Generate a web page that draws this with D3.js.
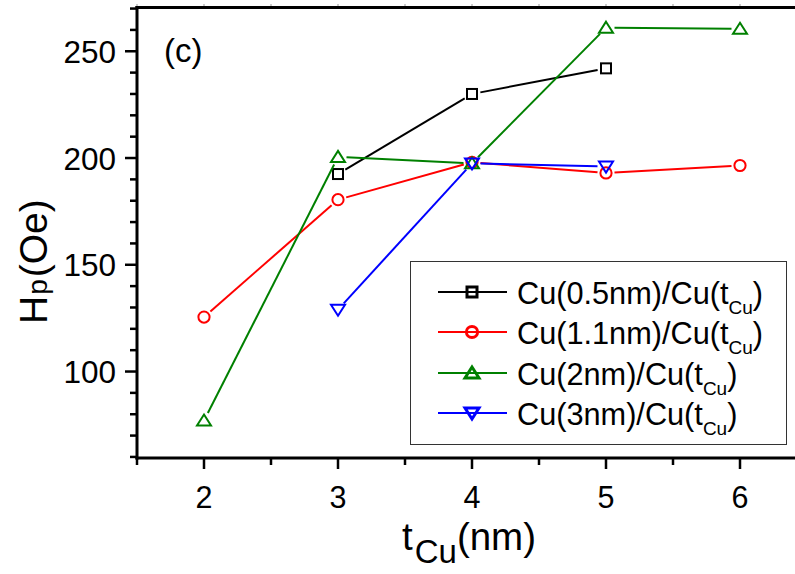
<!DOCTYPE html>
<html>
<head>
<meta charset="utf-8">
<script src="https://cdn.jsdelivr.net/npm/d3@7"></script>
<style>
  html, body { margin: 0; padding: 0; background: #fff; }
  svg { display: block; }
  text { font-family: "Liberation Sans", Arial, Helvetica, sans-serif; fill: #000; }
</style>
</head>
<body>
<svg id="chart" width="795" height="574"></svg>
<script>
// ---- data ----
const xMajorTicks = [2, 3, 4, 5, 6];
const xMinorTicks = [1.5, 2.5, 3.5, 4.5, 5.5];
const yMajorTicks = [100, 150, 200, 250];
const yMinorTicks = [60, 70, 80, 90, 110, 120, 130, 140, 160, 170, 180, 190, 210, 220, 230, 240, 260, 270];

const seriesNames = ["Cu(0.5nm)/Cu(t", "Cu(1.1nm)/Cu(t", "Cu(2nm)/Cu(t", "Cu(3nm)/Cu(t"];
const seriesColors = ["#000000", "#ff0000", "#008000", "#0000ff"];
const seriesSymbols = ["square", "circle", "triangle", "triangleDown"];

const x05 = [3, 4, 5];
const y05 = [192.5, 230, 242];
const x11 = [2, 3, 4, 5, 6];
const y11 = [125.5, 180.5, 198, 193, 196.5];
const x2 = [2, 3, 4, 5, 6];
const y2 = [77, 200.5, 197.5, 261, 260.5];
const x3 = [3, 4, 5];
const y3 = [129, 197.5, 196];

const seriesX = [x05, x11, x2, x3];
const seriesY = [y05, y11, y2, y3];

// ---- layout ----
const svg = d3.select("#chart");
const x = d3.scaleLinear().domain([1.5, 6.5]).range([137, 807]);
const y = d3.scaleLinear().domain([59.5, 270.5]).range([458, 7.5]);

function drawMarker(g, type, cx, cy, color, sw, scale) {
  const s = scale || 1;
  if (type === "square") {
    const h = 5 * s;
    g.append("rect").attr("x", cx - h).attr("y", cy - h).attr("width", 2 * h).attr("height", 2 * h)
      .attr("fill", "none").attr("stroke", color).attr("stroke-width", sw);
  } else if (type === "circle") {
    g.append("circle").attr("cx", cx).attr("cy", cy).attr("r", 5.6 * s)
      .attr("fill", "none").attr("stroke", color).attr("stroke-width", sw);
  } else if (type === "triangle") {
    const w = 7 * s, h = 11 * s;
    g.append("path").attr("d", `M${cx},${cy - h * 0.55}L${cx + w},${cy + h * 0.45}L${cx - w},${cy + h * 0.45}Z`)
      .attr("fill", "none").attr("stroke", color).attr("stroke-width", sw);
  } else if (type === "triangleDown") {
    const w = 7 * s, h = 11 * s;
    g.append("path").attr("d", `M${cx},${cy + h * 0.55}L${cx + w},${cy - h * 0.45}L${cx - w},${cy - h * 0.45}Z`)
      .attr("fill", "none").attr("stroke", color).attr("stroke-width", sw);
  }
}

// series
const gap = 8.5;
seriesX.forEach((xs, si) => {
  const g = svg.append("g");
  const color = seriesColors[si];
  const pts = xs.map((xv, i) => [x(xv), y(seriesY[si][i])]);
  for (let i = 0; i < pts.length - 1; i++) {
    const [x1, y1] = pts[i], [x2_, y2_] = pts[i + 1];
    const dx = x2_ - x1, dy = y2_ - y1, len = Math.hypot(dx, dy);
    if (len <= 2 * gap) continue;
    const ux = dx / len, uy = dy / len;
    g.append("line")
      .attr("x1", x1 + ux * gap).attr("y1", y1 + uy * gap)
      .attr("x2", x2_ - ux * gap).attr("y2", y2_ - uy * gap)
      .attr("stroke", color).attr("stroke-width", 2);
  }
  pts.forEach(p => drawMarker(g, seriesSymbols[si], p[0], p[1], color, 2, 1));
});

// axes
const axisG = svg.append("g");
const x0 = x(1.5), yb = y(59.5), yt = y(270.5);
axisG.append("line").attr("x1", x0).attr("y1", yt - 1.5).attr("x2", x0).attr("y2", yb + 1.5)
  .attr("stroke", "#000").attr("stroke-width", 3);
axisG.append("line").attr("x1", x0 - 1.5).attr("y1", yb).attr("x2", 800).attr("y2", yb)
  .attr("stroke", "#000").attr("stroke-width", 3);
axisG.append("line").attr("x1", x0 - 1.5).attr("y1", yt).attr("x2", 800).attr("y2", yt)
  .attr("stroke", "#000").attr("stroke-width", 3);

yMajorTicks.forEach(v => {
  axisG.append("line").attr("x1", x0 - 12).attr("x2", x0).attr("y1", y(v)).attr("y2", y(v))
    .attr("stroke", "#000").attr("stroke-width", 2.5);
  axisG.append("text").attr("x", 116).attr("y", y(v) + 11.5).attr("text-anchor", "end")
    .attr("font-size", 31.5).text(v);
});
yMinorTicks.forEach(v => {
  axisG.append("line").attr("x1", x0 - 7).attr("x2", x0).attr("y1", y(v)).attr("y2", y(v))
    .attr("stroke", "#000").attr("stroke-width", 2.5);
});
xMajorTicks.forEach(v => {
  axisG.append("line").attr("x1", x(v)).attr("x2", x(v)).attr("y1", yb).attr("y2", yb + 11)
    .attr("stroke", "#000").attr("stroke-width", 2.5);
  axisG.append("line").attr("x1", x(v)).attr("x2", x(v)).attr("y1", yt - 1.5).attr("y2", yt - 3.5)
    .attr("stroke", "#999").attr("stroke-width", 1);
  axisG.append("text").attr("x", x(v)).attr("y", 508).attr("text-anchor", "middle")
    .attr("font-size", 30.5).text(v);
});
xMinorTicks.forEach(v => {
  axisG.append("line").attr("x1", x(v)).attr("x2", x(v)).attr("y1", yb).attr("y2", yb + 7)
    .attr("stroke", "#000").attr("stroke-width", 2.5);
  axisG.append("line").attr("x1", x(v)).attr("x2", x(v)).attr("y1", yt - 1.5).attr("y2", yt - 3.5)
    .attr("stroke", "#999").attr("stroke-width", 1);
});

// axis titles
const xt = svg.append("text").attr("x", 402).attr("y", 550).attr("font-size", 38.5);
xt.append("tspan").text("t");
xt.append("tspan").attr("font-size", 33).attr("dy", 13).attr("dx", 2).text("Cu");
xt.append("tspan").attr("dy", -13).text("(nm)");

const ytl = svg.append("text").attr("transform", "translate(47,324) rotate(-90)")
  .attr("text-anchor", "start").attr("font-size", 39);
ytl.append("tspan").text("H");
ytl.append("tspan").attr("font-size", 28).attr("dx", 1).text("p");
ytl.append("tspan").attr("dx", 2).text("(Oe)");

// panel label
svg.append("text").attr("x", 164).attr("y", 62).attr("font-size", 33).text("(c)");

// legend
const lg = svg.append("g");
lg.append("rect").attr("x", 410.5).attr("y", 261.5).attr("width", 376).attr("height", 183)
  .attr("fill", "#fff").attr("stroke", "#333").attr("stroke-width", 1);
const rowY = [292, 332, 373, 413];
seriesNames.forEach((name, i) => {
  const ry = rowY[i];
  lg.append("line").attr("x1", 438).attr("x2", 507).attr("y1", ry).attr("y2", ry)
    .attr("stroke", seriesColors[i]).attr("stroke-width", 2);
  drawMarker(lg, seriesSymbols[i], 472, ry, seriesColors[i], 3, 1);
  const t = lg.append("text").attr("x", 517).attr("y", ry + 11.5).attr("font-size", 30.7);
  t.append("tspan").text(name);
  t.append("tspan").attr("font-size", 19).attr("dy", 10).text("Cu");
  t.append("tspan").attr("dy", -10).text(")");
});
</script>
</body>
</html>
